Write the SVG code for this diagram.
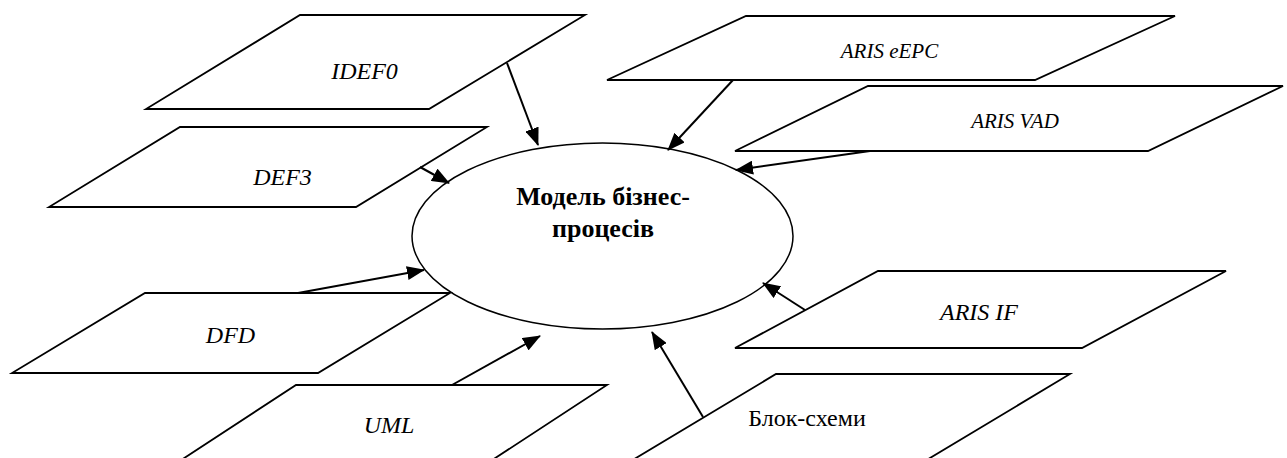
<svg xmlns="http://www.w3.org/2000/svg" width="1287" height="458" viewBox="0 0 1287 458">
<style>
.shape{fill:#fff;stroke:#000;stroke-width:1.8;stroke-linejoin:miter}
.ell{fill:#fff;stroke:#000;stroke-width:1.5}
.lbl{font-family:"Liberation Serif","Times New Roman",serif;font-size:24px;font-style:italic;fill:#000;text-anchor:middle}
.sm{font-size:21px}
.reg{font-style:normal}
.title{font-family:"Liberation Serif","Times New Roman",serif;font-size:26px;font-weight:bold;fill:#000;text-anchor:middle}
.conn line{stroke:#000;stroke-width:2;marker-end:url(#arr)}
</style>
<defs>
<marker id="arr" markerUnits="userSpaceOnUse" markerWidth="18" markerHeight="14" refX="17" refY="7" orient="auto">
<path d="M0,0 L18,7 L0,14 z" fill="#000"/>
</marker>
</defs>
<g id="center">
<ellipse class="ell" cx="602.5" cy="236" rx="190.5" ry="93"/>
<text class="title" x="603" y="205">Модель бізнес-</text>
<text class="title" x="603" y="237">процесів</text>
</g>
<g id="idef0">
<polygon class="shape" points="300,15 585,15 429,109 146,109"/>
<text class="lbl" x="364.5" y="79">IDEF0</text>
</g>
<g id="def3">
<polygon class="shape" points="180,127 487,127 356,207 49,207"/>
<text class="lbl" x="282.5" y="185">DEF3</text>
</g>
<g id="dfd">
<polygon class="shape" points="145,293 450,293 318,373 12,373"/>
<text class="lbl" x="230.5" y="343">DFD</text>
</g>
<g id="uml">
<polygon class="shape" points="296,385 607,385 480,468 169,468"/>
<text class="lbl" x="389" y="433">UML</text>
</g>
<g id="eepc">
<polygon class="shape" points="746,16 1175,16 1035,80 607,80"/>
<text class="lbl sm" x="889.5" y="58">ARIS eEPC</text>
</g>
<g id="vad">
<polygon class="shape" points="868,86 1283,86 1148,151 735,151"/>
<text class="lbl sm" x="1015" y="128">ARIS VAD</text>
</g>
<g id="arisif">
<polygon class="shape" points="878,271 1226,271 1082,348 735,348"/>
<text class="lbl" x="979" y="320">ARIS IF</text>
</g>
<g id="blok">
<polygon class="shape" points="776,374 1070,374 915,467 621,467"/>
<text class="lbl reg" x="807" y="426">Блок-схеми</text>
</g>
<g id="connectors" class="conn">
<line x1="507" y1="63" x2="538" y2="145"/>
<line x1="420" y1="167" x2="449" y2="183"/>
<line x1="733" y1="80" x2="668" y2="150"/>
<line x1="870" y1="151" x2="736" y2="170"/>
<line x1="298" y1="293" x2="424" y2="270"/>
<line x1="452" y1="385" x2="540" y2="336"/>
<line x1="805" y1="310" x2="763" y2="283"/>
<line x1="703" y1="417" x2="652" y2="332"/>
</g>
</svg>
